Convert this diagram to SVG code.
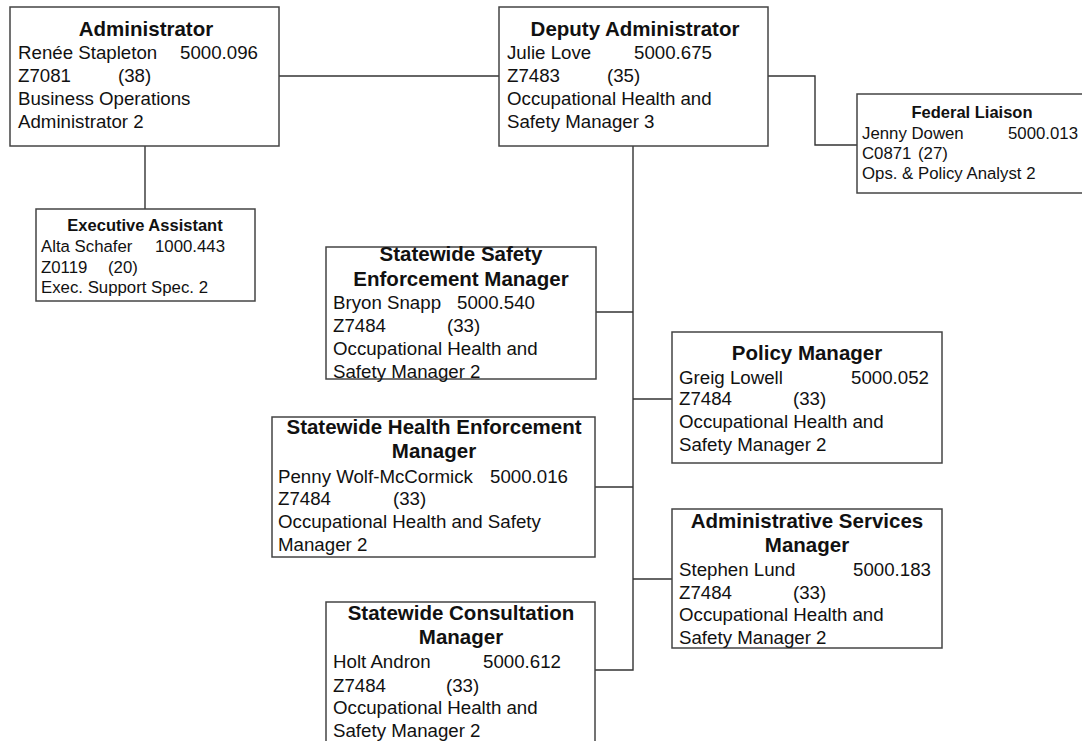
<svg xmlns="http://www.w3.org/2000/svg" width="1082" height="741" viewBox="0 0 1082 741">
<style>
  .box { fill: #ffffff; stroke: #444444; stroke-width: 1.5; }
  .conn { fill: none; stroke: #333333; stroke-width: 1.4; }
  text { font-family: "Liberation Sans", Arial, sans-serif; fill: #111111; }
  .t { font-weight: bold; font-size: 20.5px; text-anchor: middle; }
  .b { font-size: 18.7px; }
  .ts { font-weight: bold; font-size: 16.5px; text-anchor: middle; }
  .bs { font-size: 16.8px; }
</style>
<rect width="1082" height="741" fill="#ffffff"/>
<g id="connectors">
  <path class="conn" d="M279 76 H499"/>
  <path class="conn" d="M768 76 H815 V145 H857"/>
  <path class="conn" d="M145 146 V209"/>
  <path class="conn" d="M633 146 V670 H595"/>
  <path class="conn" d="M596 312 H633"/>
  <path class="conn" d="M595 487 H633"/>
  <path class="conn" d="M633 399 H672"/>
  <path class="conn" d="M633 579 H672"/>
</g>
<g id="administrator">
  <rect class="box" x="10" y="7" width="269" height="139"/>
  <text class="t" x="146" y="36">Administrator</text>
  <text class="b" x="18" y="59">Renée Stapleton</text>
  <text class="b" x="180" y="59">5000.096</text>
  <text class="b" x="18" y="82">Z7081</text>
  <text class="b" x="118" y="82">(38)</text>
  <text class="b" x="18" y="105">Business Operations</text>
  <text class="b" x="18" y="128">Administrator 2</text>
</g>
<g id="deputy-administrator">
  <rect class="box" x="499" y="7" width="269" height="139"/>
  <text class="t" x="635" y="36">Deputy Administrator</text>
  <text class="b" x="507" y="59">Julie Love</text>
  <text class="b" x="634" y="59">5000.675</text>
  <text class="b" x="507" y="82">Z7483</text>
  <text class="b" x="607" y="82">(35)</text>
  <text class="b" x="507" y="105">Occupational Health and</text>
  <text class="b" x="507" y="128">Safety Manager 3</text>
</g>
<g id="federal-liaison">
  <rect class="box" x="857" y="94" width="240" height="99"/>
  <text class="ts" x="972" y="118">Federal Liaison</text>
  <text class="bs" x="862" y="139">Jenny Dowen</text>
  <text class="bs" x="1008" y="139">5000.013</text>
  <text class="bs" x="862" y="159">C0871</text>
  <text class="bs" x="918" y="159">(27)</text>
  <text class="bs" x="862" y="179">Ops. &amp; Policy Analyst 2</text>
</g>
<g id="executive-assistant">
  <rect class="box" x="36" y="209" width="219" height="92"/>
  <text class="ts" x="145" y="231">Executive Assistant</text>
  <text class="bs" x="41" y="252">Alta Schafer</text>
  <text class="bs" x="155" y="252">1000.443</text>
  <text class="bs" x="41" y="273">Z0119</text>
  <text class="bs" x="108" y="273">(20)</text>
  <text class="bs" x="41" y="293">Exec. Support Spec. 2</text>
</g>
<g id="safety-enforcement-manager">
  <rect class="box" x="326" y="247" width="270" height="132"/>
  <text class="t" x="461" y="261">Statewide Safety</text>
  <text class="t" x="461" y="286">Enforcement Manager</text>
  <text class="b" x="333" y="309">Bryon Snapp</text>
  <text class="b" x="457" y="309">5000.540</text>
  <text class="b" x="333" y="332">Z7484</text>
  <text class="b" x="447" y="332">(33)</text>
  <text class="b" x="333" y="355">Occupational Health and</text>
  <text class="b" x="333" y="378">Safety Manager 2</text>
</g>
<g id="health-enforcement-manager">
  <rect class="box" x="272" y="417" width="323" height="140"/>
  <text class="t" x="434" y="434">Statewide Health Enforcement</text>
  <text class="t" x="434" y="458">Manager</text>
  <text class="b" x="278" y="483">Penny Wolf-McCormick</text>
  <text class="b" x="490" y="483">5000.016</text>
  <text class="b" x="278" y="505">Z7484</text>
  <text class="b" x="393" y="505">(33)</text>
  <text class="b" x="278" y="528">Occupational Health and Safety</text>
  <text class="b" x="278" y="551">Manager 2</text>
</g>
<g id="consultation-manager">
  <rect class="box" x="326" y="602" width="269" height="150"/>
  <text class="t" x="461" y="620">Statewide Consultation</text>
  <text class="t" x="461" y="644">Manager</text>
  <text class="b" x="333" y="668">Holt Andron</text>
  <text class="b" x="483" y="668">5000.612</text>
  <text class="b" x="333" y="692">Z7484</text>
  <text class="b" x="446" y="692">(33)</text>
  <text class="b" x="333" y="714">Occupational Health and</text>
  <text class="b" x="333" y="737">Safety Manager 2</text>
</g>
<g id="policy-manager">
  <rect class="box" x="672" y="332" width="270" height="131"/>
  <text class="t" x="807" y="360">Policy Manager</text>
  <text class="b" x="679" y="384">Greig Lowell</text>
  <text class="b" x="851" y="384">5000.052</text>
  <text class="b" x="679" y="405">Z7484</text>
  <text class="b" x="793" y="405">(33)</text>
  <text class="b" x="679" y="428">Occupational Health and</text>
  <text class="b" x="679" y="451">Safety Manager 2</text>
</g>
<g id="administrative-services-manager">
  <rect class="box" x="672" y="509" width="270" height="139"/>
  <text class="t" x="807" y="528">Administrative Services</text>
  <text class="t" x="807" y="552">Manager</text>
  <text class="b" x="679" y="576">Stephen Lund</text>
  <text class="b" x="853" y="576">5000.183</text>
  <text class="b" x="679" y="599">Z7484</text>
  <text class="b" x="793" y="599">(33)</text>
  <text class="b" x="679" y="621">Occupational Health and</text>
  <text class="b" x="679" y="644">Safety Manager 2</text>
</g>
</svg>
